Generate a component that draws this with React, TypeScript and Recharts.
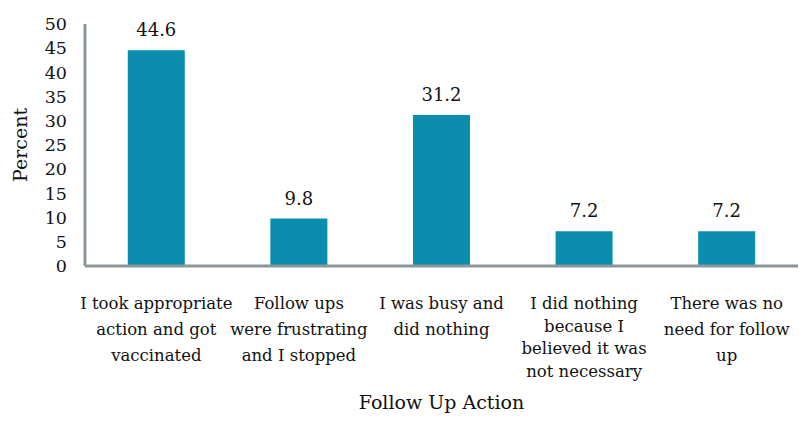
import React from 'react';
import { BarChart, Bar, XAxis, YAxis, LabelList } from 'recharts';

const categories: string[] = [
  'I took appropriate\naction and got\nvaccinated',
  'Follow ups\nwere frustrating\nand I stopped',
  'I was busy and\ndid nothing',
  'I did nothing\nbecause I\nbelieved it was\nnot necessary',
  'There was no\nneed for follow\nup',
];
const percents: number[] = [44.6, 9.8, 31.2, 7.2, 7.2];
const yTicks: number[] = [0, 5, 10, 15, 20, 25, 30, 35, 40, 45, 50];

const data = categories.map((c, i) => ({ category: c, value: percents[i] }));

const FONT = '"DejaVu Serif", serif';
const AXIS_COLOR = '#8a9799';
const BAR_COLOR = '#0b8db0';

const XTick = (props: any) => {
  const { x, y, payload } = props;
  const lines: string[] = String(payload.value).split('\n');
  const lh = lines.length > 3 ? 22.5 : 25.8;
  return (
    <text x={x} y={y} textAnchor="middle" fontFamily={FONT} fontSize={16.5} fill="#111">
      {lines.map((l, i) => (
        <tspan key={i} x={x} dy={i === 0 ? 35 : lh}>
          {l}
        </tspan>
      ))}
    </text>
  );
};

const YLabel = (props: any) => {
  const vb = props.viewBox || {};
  const cx = (vb.x || 0) + 20;
  const cy = (vb.y || 0) + (vb.height || 0) / 2;
  return (
    <text
      x={cx}
      y={cy}
      transform={`rotate(-90 ${cx} ${cy})`}
      textAnchor="middle"
      dominantBaseline="central"
      fontFamily={FONT}
      fontSize={19}
      fill="#111"
    >
      Percent
    </text>
  );
};

export default function App() {
  return (
    <div style={{ position: 'absolute', left: 0, top: 0, background: '#fff' }}>
      <BarChart
        width={807}
        height={432}
        data={data}
        margin={{ top: 24, right: 9, bottom: 0, left: 0 }}
        barCategoryGap="30%"
      >
        <XAxis
          dataKey="category"
          interval={0}
          height={166}
          tickLine={false}
          axisLine={{ stroke: AXIS_COLOR, strokeWidth: 3 }}
          tick={<XTick />}
          label={{
            value: 'Follow Up Action',
            position: 'insideBottom',
            offset: 23,
            style: { fontFamily: FONT, fontSize: 19, fill: '#111' },
          }}
        />
        <YAxis
          domain={[0, 50]}
          ticks={yTicks}
          interval={0}
          width={85}
          tickLine={false}
          tickSize={0}
          tickMargin={18}
          axisLine={{ stroke: AXIS_COLOR, strokeWidth: 3 }}
          tick={{ fontFamily: FONT, fontSize: 17.5, fill: '#111' }}
          label={<YLabel />}
        />
        <Bar dataKey="value" fill={BAR_COLOR} isAnimationActive={false}>
          <LabelList
            dataKey="value"
            position="top"
            offset={14}
            style={{ fontFamily: FONT, fontSize: 18, fill: '#111' }}
          />
        </Bar>
      </BarChart>
    </div>
  );
}
